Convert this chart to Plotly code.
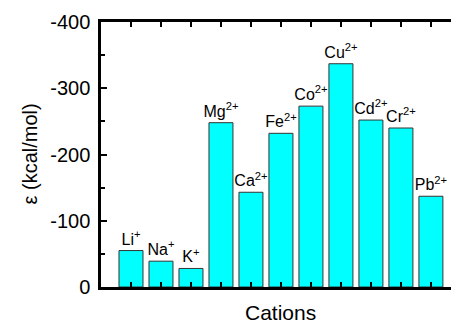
import plotly.graph_objects as go

cations = ["Li<sup>+</sup>", "Na<sup>+</sup>", "K<sup>+</sup>", "Mg<sup>2+</sup>", "Ca<sup>2+</sup>",
           "Fe<sup>2+</sup>", "Co<sup>2+</sup>", "Cu<sup>2+</sup>", "Cd<sup>2+</sup>", "Cr<sup>2+</sup>",
           "Pb<sup>2+</sup>"]
energies = [-55, -39, -28, -248, -143, -232, -273, -337, -252, -240, -137]
y_ticks = [0, -100, -200, -300, -400]
y_tick_labels = ["0", "-100", "-200", "-300", "-400"]
y_minor = [-50, -150, -250, -350]
x_title = "Cations"
y_title = "ε (kcal/mol)"

idx = list(range(len(cations)))
FONT = "Arial, Liberation Sans, sans-serif"

fig = go.Figure(go.Bar(
    x=idx, y=energies, width=0.8,
    marker=dict(color="#00FFFF", line=dict(color="#333333", width=1)),
    text=cations, textposition="outside", cliponaxis=False, constraintext="none",
    textfont=dict(family=FONT, size=16, color="black"),
))

fig.update_layout(
    width=451, height=325,
    margin=dict(l=101, r=0, t=22, b=38),
    paper_bgcolor="white", plot_bgcolor="white",
    showlegend=False, bargap=0.2,
    font=dict(family=FONT, color="black"),
    annotations=[
        dict(text=x_title, xref="paper", yref="paper", x=0.514, y=-0.098,
             xanchor="center", yanchor="middle", showarrow=False, font=dict(size=21)),
        dict(text=y_title, xref="paper", yref="paper", x=-0.2057, y=0.5, textangle=-90,
             xanchor="center", yanchor="middle", showarrow=False, font=dict(size=20)),
    ],
)
fig.update_xaxes(
    range=[-1, 10.67], tickvals=idx, showticklabels=False,
    ticks="inside", ticklen=5, tickwidth=2, tickcolor="black",
    showline=True, linewidth=2.5, linecolor="black", mirror="ticks",
    showgrid=False, zeroline=False,
)
fig.update_yaxes(
    range=[0, -400], tickvals=y_ticks, ticktext=y_tick_labels,
    ticks="inside", ticklen=6, tickwidth=2, tickcolor="black",
    minor=dict(tickvals=y_minor, ticks="inside", ticklen=4, tickwidth=2, tickcolor="black"),
    tickfont=dict(size=20), ticklabelstandoff=4,
    showline=True, linewidth=2.5, linecolor="black", mirror=False,
    showgrid=False, zeroline=False,
)

fig.write_html("out.html")
